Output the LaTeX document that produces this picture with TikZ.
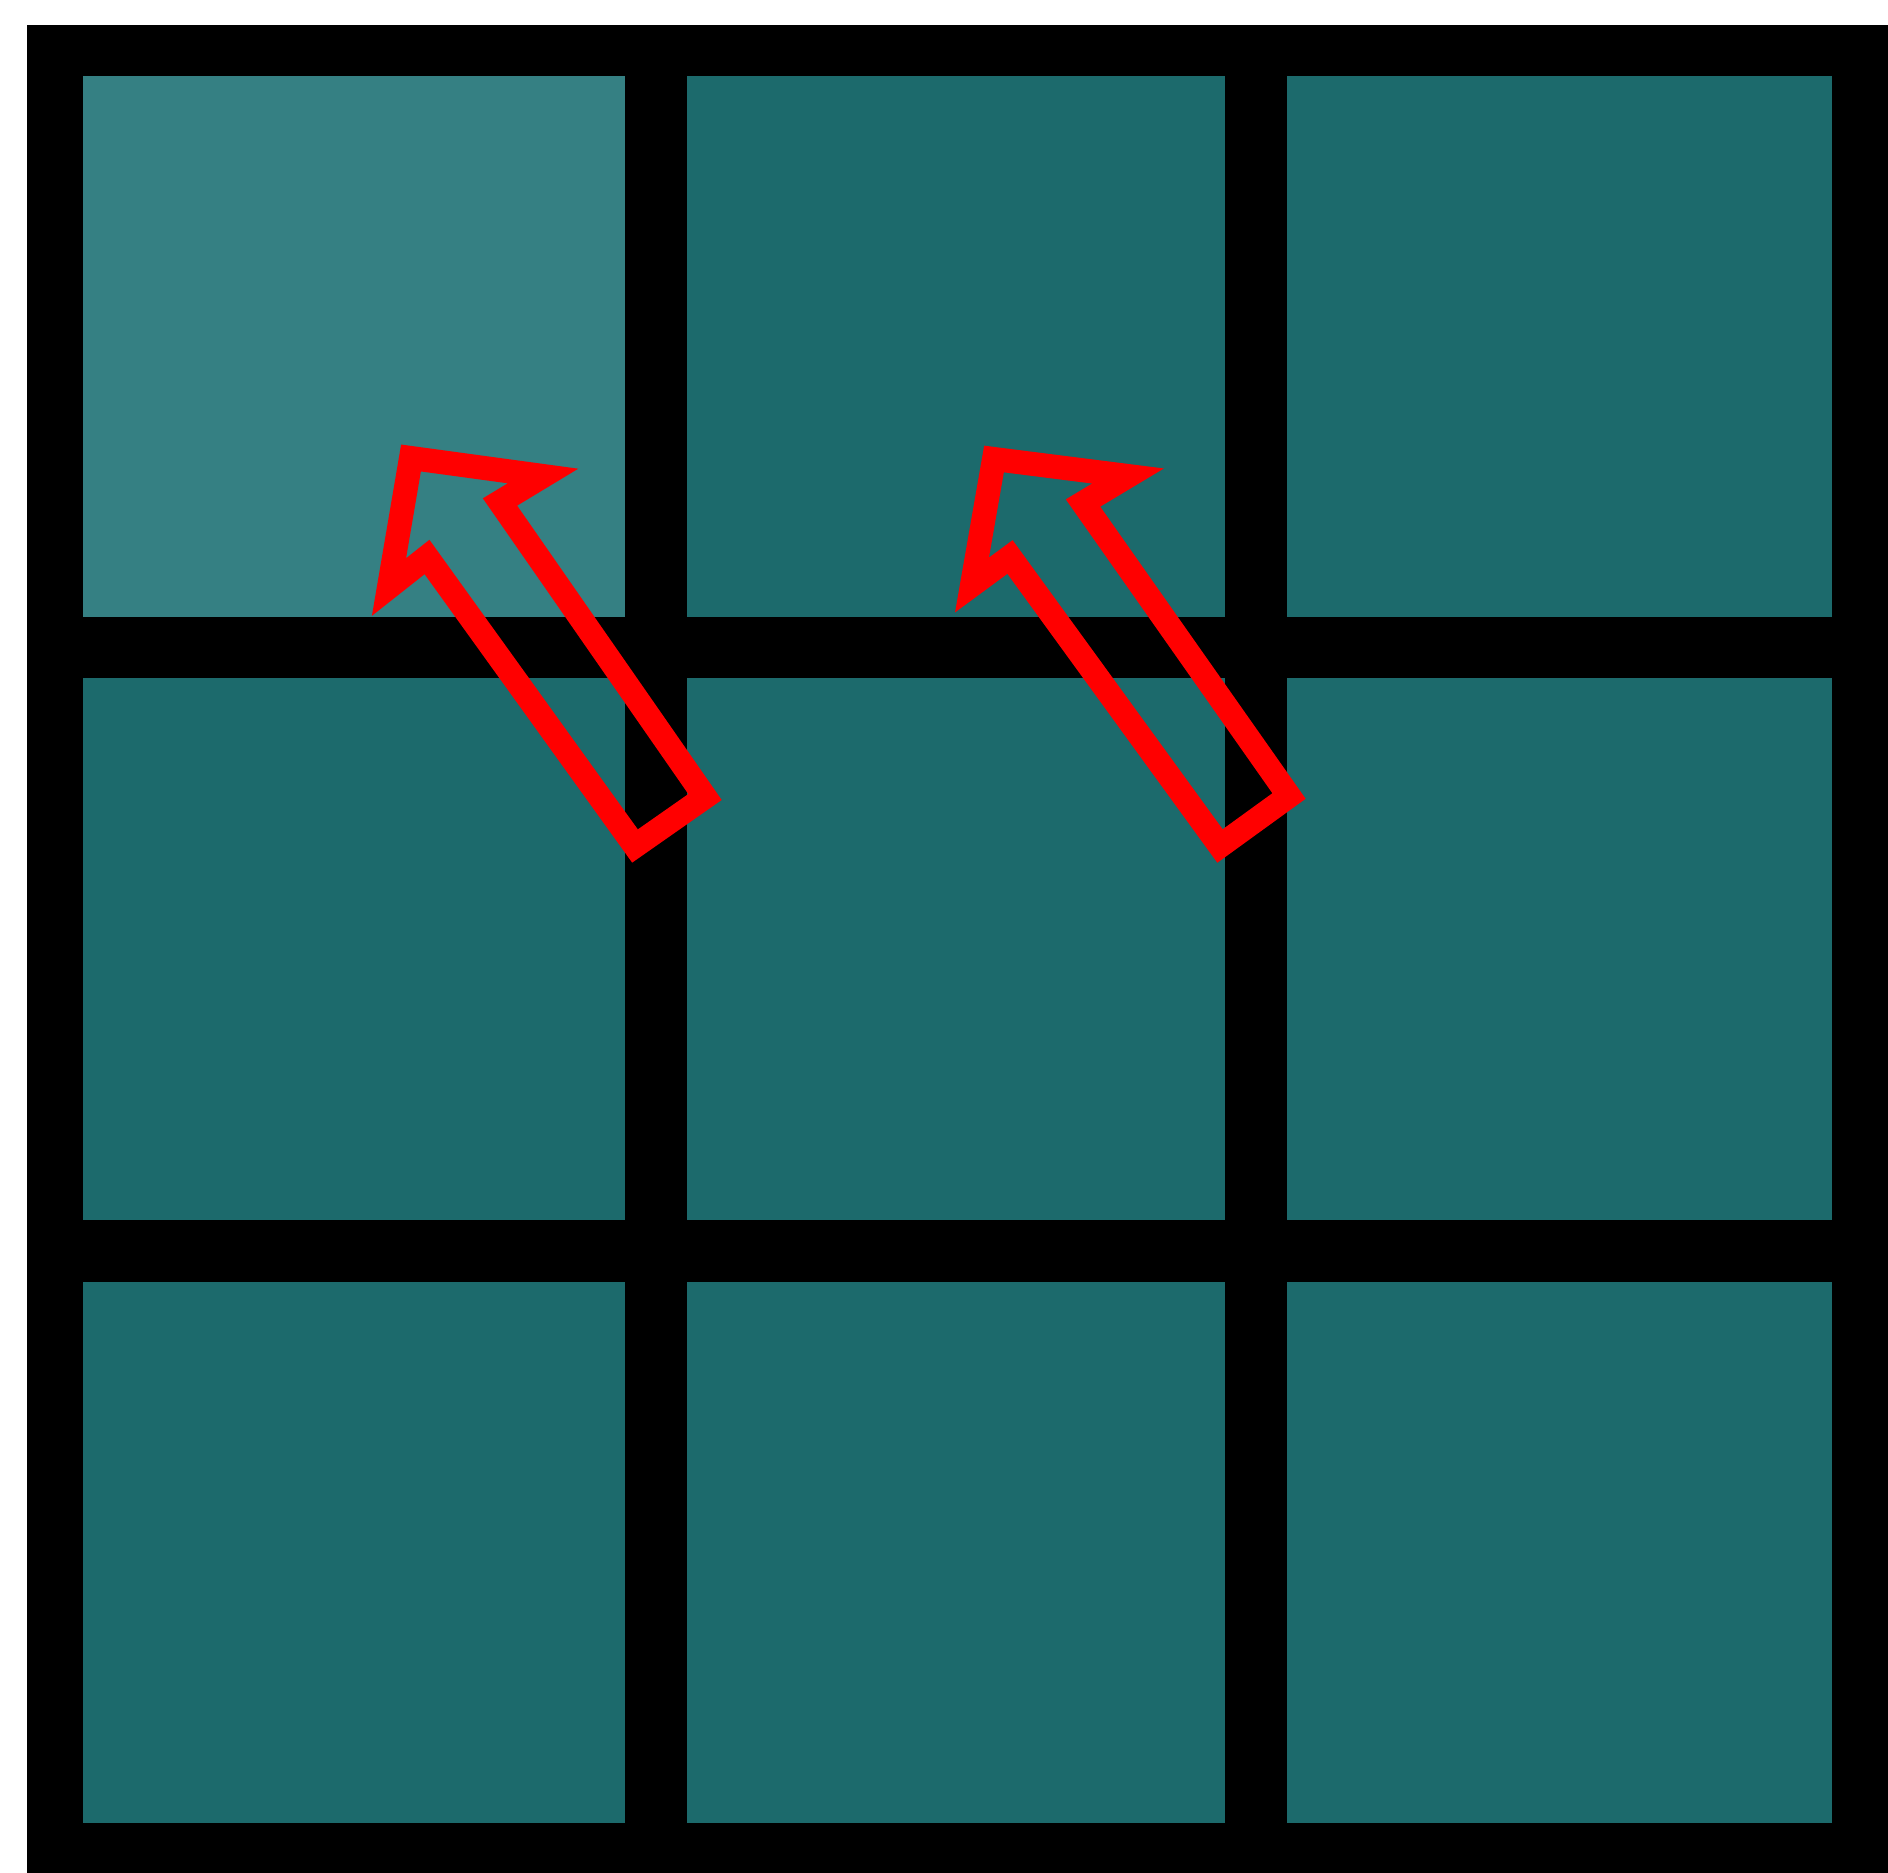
\documentclass[tikz,border=0pt]{standalone}
\begin{document}
\begin{tikzpicture}[x=1pt,y=-1pt,
  cell/.style={fill=tealdark,draw=none},
  hlcell/.style={fill=teallight,draw=none},
  outlinearrow/.style={draw=red,line width=24pt,line join=miter,miter limit=10}]
\definecolor{tealdark}{RGB}{28,106,108}
\definecolor{teallight}{RGB}{53,128,131}
\useasboundingbox (0,0) rectangle (1888,1873);
\fill[white] (0,0) rectangle (1888,1873);
\fill[black] (27,25) rectangle (1888,1873);
% rows: 76-617, 678-1220, 1282-1823 ; cols: 83-625, 687-1225, 1287-1832
\fill[hlcell] (83,76) rectangle (625,617);
\fill[cell] (687,76) rectangle (1225,617);
\fill[cell] (1287,76) rectangle (1832,617);
\fill[cell] (83,678) rectangle (625,1220);
\fill[cell] (687,678) rectangle (1225,1220);
\fill[cell] (1287,678) rectangle (1832,1220);
\fill[cell] (83,1282) rectangle (625,1823);
\fill[cell] (687,1282) rectangle (1225,1823);
\fill[cell] (1287,1282) rectangle (1832,1823);
% arrows
\draw[outlinearrow] (411,458) -- (543,476) -- (500,502) -- (705,797) -- (635,846) -- (427,557) -- (389,587) -- cycle;
\draw[outlinearrow] (994,459) -- (1128,476) -- (1083,503) -- (1289,796) -- (1220,846) -- (1010,557) -- (972,585) -- cycle;
\end{tikzpicture}
\end{document}
